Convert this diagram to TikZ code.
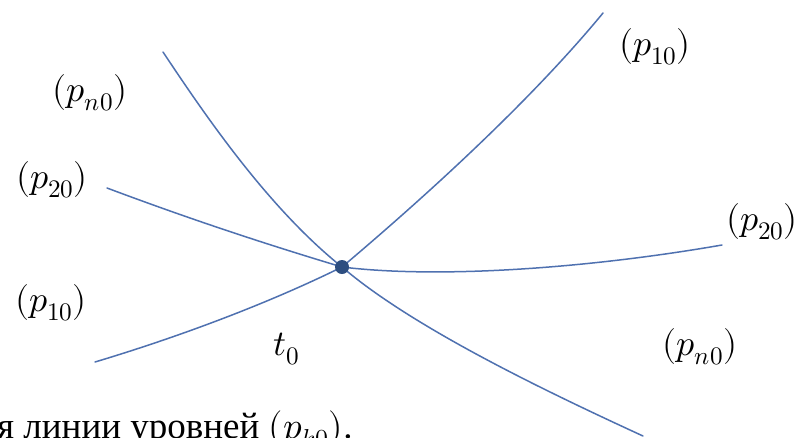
\documentclass[tikz,border=0pt]{standalone}
\usepackage{fontspec}
\usepackage{unicode-math}
\setmainfont{Liberation Serif}
\definecolor{lineblue}{RGB}{79,113,176}
\definecolor{dotblue}{RGB}{45,78,128}
\tikzset{
  curve/.style={draw=lineblue, line width=1.5pt, line cap=round},
  lab/.style={inner sep=0pt, font=\fontsize{36}{42}\selectfont},
  dotnode/.style={circle, fill=dotblue, minimum size=14pt, inner sep=0pt}
}
\begin{document}
\begin{tikzpicture}[x=1pt,y=-1pt]
\path[use as bounding box, clip] (0,0) rectangle (811,437);
\fill[white] (0,0) rectangle (811,437);
\coordinate (t0) at (342,267);
\coordinate (a1) at (95,362);
\coordinate (a2) at (603,13);
\coordinate (b1) at (163,52);
\coordinate (b2) at (643,436);
\coordinate (c1) at (107,188);
\coordinate (c2) at (722,245);
% p10 curve
\draw[curve] (a1) .. controls (175,338) and (265,305) .. (t0)
                  .. controls (432,191) and (533,98) .. (a2);
% pn0 curve
\draw[curve] (b1) .. controls (203,112) and (267,207) .. (t0)
                  .. controls (412,327) and (543,390) .. (b2);
% p20 curve
\draw[curve] (c1) .. controls (187,218) and (262,243) .. (t0)
                  .. controls (440,279) and (590,268) .. (c2);
\node[dotnode] (dot) at (t0) {};
% labels
\node[lab] (lpn0a) at (90,93) {$(p_{n0})$};
\node[lab] (lp20a) at (52,180) {$(p_{20})$};
\node[lab] (lp10a) at (51,303) {$(p_{10})$};
\node[lab] (lt0) at (287,349) {$t_0$};
\node[lab] (lp10b) at (655,47) {$(p_{10})$};
\node[lab] (lp20b) at (762,222) {$(p_{20})$};
\node[lab] (lpn0b) at (700,347) {$(p_{n0})$};
\node[inner sep=0pt, anchor=base west, font=\fontsize{37}{43}\selectfont] (cap) at (-3,438) {я линии уровней $(p_{k0})$.};
\end{tikzpicture}
\end{document}
